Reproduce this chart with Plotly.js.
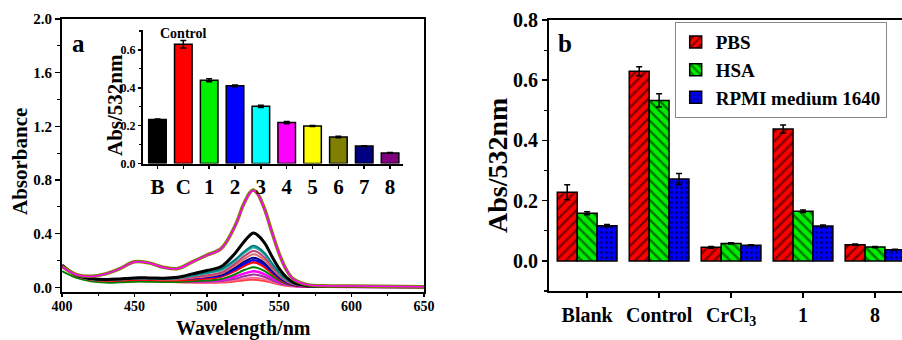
<!DOCTYPE html>
<html>
<head>
<meta charset="utf-8">
<script src="https://cdn.plot.ly/plotly-3.0.1.min.js"></script>
<style>
  html, body { margin: 0; padding: 0; background: #fff; }
  #chart { width: 902px; height: 340px; }
</style>
</head>
<body>
<div id="chart"></div>
<script>
// ---------- Panel a: spectra ----------
var wavelengths = [400,410,420,430,440,450,460,470,480,490,500,510,520,525,530,532,535,540,545,550,555,560,570,580,600,650];

var specOlive   = [0.155,0.095,0.082,0.100,0.140,0.190,0.182,0.150,0.140,0.190,0.240,0.290,0.470,0.610,0.710,0.725,0.700,0.580,0.410,0.250,0.130,0.060,0.018,0.012,0.010,0.004];
var specMagentaA= [0.153,0.094,0.081,0.099,0.139,0.189,0.181,0.149,0.139,0.189,0.238,0.288,0.467,0.606,0.706,0.721,0.696,0.576,0.407,0.248,0.129,0.059,0.018,0.012,0.010,0.004];
var specBlack   = [0.165,0.090,0.065,0.058,0.062,0.070,0.070,0.068,0.075,0.100,0.125,0.155,0.260,0.330,0.390,0.405,0.390,0.330,0.230,0.140,0.075,0.035,0.012,0.008,0.006,0.003];
var specTeal    = [0.160,0.088,0.062,0.055,0.060,0.068,0.067,0.064,0.070,0.090,0.110,0.135,0.210,0.260,0.300,0.310,0.300,0.255,0.180,0.110,0.060,0.030,0.010,0.007,0.005,0.003];
var specTeal2   = [0.158,0.087,0.061,0.054,0.059,0.066,0.066,0.063,0.068,0.085,0.104,0.128,0.200,0.248,0.287,0.296,0.287,0.244,0.172,0.105,0.057,0.028,0.010,0.007,0.005,0.003];
var specRasp    = [0.158,0.086,0.060,0.053,0.057,0.065,0.064,0.060,0.062,0.075,0.090,0.110,0.180,0.225,0.262,0.270,0.262,0.220,0.155,0.095,0.050,0.025,0.009,0.006,0.005,0.003];
var specSalmon  = [0.156,0.085,0.059,0.052,0.056,0.063,0.062,0.058,0.059,0.070,0.083,0.102,0.165,0.205,0.238,0.246,0.238,0.200,0.140,0.086,0.046,0.023,0.009,0.006,0.005,0.003];
var specNavy    = [0.160,0.088,0.062,0.057,0.062,0.070,0.070,0.066,0.064,0.070,0.080,0.095,0.150,0.185,0.213,0.220,0.213,0.180,0.125,0.075,0.040,0.020,0.008,0.005,0.004,0.002];
var specBlue    = [0.158,0.087,0.061,0.055,0.060,0.068,0.068,0.064,0.061,0.066,0.074,0.088,0.138,0.170,0.196,0.203,0.196,0.166,0.116,0.070,0.037,0.019,0.008,0.005,0.004,0.002];
var specRed     = [0.155,0.085,0.058,0.050,0.052,0.058,0.057,0.053,0.052,0.058,0.065,0.080,0.125,0.155,0.180,0.186,0.180,0.150,0.105,0.063,0.033,0.017,0.007,0.005,0.004,0.002];
var specGreen   = [0.120,0.070,0.045,0.035,0.037,0.042,0.042,0.040,0.040,0.045,0.050,0.062,0.100,0.125,0.145,0.150,0.145,0.120,0.085,0.050,0.027,0.014,0.006,0.004,0.003,0.002];
var specMagentaB= [0.165,0.090,0.060,0.050,0.050,0.055,0.055,0.050,0.046,0.045,0.047,0.055,0.082,0.100,0.115,0.120,0.116,0.097,0.068,0.040,0.022,0.012,0.005,0.004,0.003,0.002];
var specPurple  = [0.160,0.088,0.058,0.047,0.047,0.051,0.051,0.047,0.043,0.041,0.042,0.047,0.066,0.080,0.092,0.096,0.092,0.077,0.054,0.032,0.018,0.010,0.004,0.003,0.003,0.002];
var specPink    = [0.158,0.086,0.056,0.045,0.044,0.048,0.048,0.044,0.040,0.038,0.038,0.041,0.054,0.062,0.070,0.072,0.070,0.059,0.042,0.026,0.015,0.008,0.004,0.003,0.003,0.002];
var specRed2    = [0.156,0.085,0.055,0.043,0.042,0.045,0.045,0.041,0.037,0.035,0.034,0.036,0.045,0.051,0.056,0.057,0.055,0.047,0.034,0.021,0.012,0.007,0.004,0.006,0.004,0.002];

var spectra = [
  {y: specRed2,     color: '#ff4040', w: 2},
  {y: specPink,     color: '#ff6699', w: 2},
  {y: specPurple,   color: '#993399', w: 2},
  {y: specMagentaB, color: '#ff00ff', w: 2.5},
  {y: specGreen,    color: '#008000', w: 2},
  {y: specRed,      color: '#ff0000', w: 2.5},
  {y: specBlue,     color: '#0000ff', w: 2},
  {y: specNavy,     color: '#000080', w: 2},
  {y: specSalmon,   color: '#e07070', w: 2},
  {y: specRasp,     color: '#c04070', w: 2},
  {y: specTeal2,    color: '#33aaaa', w: 2},
  {y: specTeal,     color: '#008080', w: 2},
  {y: specBlack,    color: '#000000', w: 3},
  {y: specOlive,    color: '#808000', w: 3.5},
  {y: specMagentaA, color: '#ff00ff', w: 1.5}
];

// ---------- Inset: Abs at 532 nm ----------
var insetCats   = ['B','C','1','2','3','4','5','6','7','8'];
var insetValues = [0.232,0.630,0.440,0.410,0.302,0.216,0.198,0.140,0.092,0.056];
var insetErrors = [0.003,0.020,0.008,0.005,0.006,0.006,0.003,0.004,0.002,0.002];
var insetColors = ['#000000','#ff0000','#00ee00','#0000ff','#00ffff','#ff00ff','#ffff00','#808000','#000080','#800080'];

// ---------- Panel b ----------
var groupCats = ['Blank','Control','CrCl<sub>3</sub>','1','8'];
var seriesNames = ['PBS','HSA','RPMI medium 1640'];
var pbsValues  = [0.228,0.630,0.045,0.438,0.054];
var pbsErrors  = [0.025,0.015,0.003,0.013,0.002];
var hsaValues  = [0.158,0.533,0.058,0.165,0.046];
var hsaErrors  = [0.005,0.022,0.002,0.004,0.002];
var rpmiValues = [0.117,0.272,0.052,0.116,0.037];
var rpmiErrors = [0.004,0.018,0.002,0.003,0.002];

var F = 'Liberation Serif, Times New Roman, serif';
var data = [];

spectra.forEach(function (s) {
  data.push({
    type: 'scatter', mode: 'lines', x: wavelengths, y: s.y,
    xaxis: 'x', yaxis: 'y', showlegend: false,
    line: {color: s.color, width: s.w, shape: 'spline', smoothing: 1}
  });
});

data.push({
  type: 'bar', x: insetCats, y: insetValues, xaxis: 'x2', yaxis: 'y2',
  width: 0.68, showlegend: false,
  marker: {color: insetColors, line: {color: '#000', width: 1.5}},
  error_y: {type: 'data', array: insetErrors, visible: true, color: '#000', thickness: 1.5, width: 3}
});

var bSeries = [
  {name: seriesNames[0], y: pbsValues,  e: pbsErrors,  color: '#ff0000', shape: '/', size: 7, sol: 0.35},
  {name: seriesNames[1], y: hsaValues,  e: hsaErrors,  color: '#00ee00', shape: '\\', size: 7, sol: 0.35},
  {name: seriesNames[2], y: rpmiValues, e: rpmiErrors, color: '#0000ff', shape: '.', size: 5, sol: 0.3}
];
bSeries.forEach(function (s) {
  data.push({
    type: 'bar', name: s.name, x: groupCats, y: s.y, xaxis: 'x3', yaxis: 'y3',
    marker: {color: s.color, line: {color: '#000', width: 1.5},
             pattern: {shape: s.shape, fgcolor: '#000', bgcolor: s.color, size: s.size, solidity: s.sol, fillmode: 'overlay'}},
    error_y: {type: 'data', array: s.e, visible: true, color: '#000', thickness: 1.5, width: 3}
  });
});

function tf(size) { return {family: F, size: size, color: '#000', weight: 'bold'}; }
function px(x) { return x / 902; }
function py(y) { return (340 - y) / 340; }

var layout = {
  width: 902, height: 340,
  margin: {l: 0, r: 0, t: 0, b: 0},
  paper_bgcolor: '#fff', plot_bgcolor: 'rgba(0,0,0,0)',
  font: {family: F, color: '#000'},
  barmode: 'group', bargap: 0.17, bargroupgap: 0,
  showlegend: true,
  legend: {x: 0.748, y: 0.935, xanchor: 'left', yanchor: 'top',
           font: tf(19), bordercolor: '#888', borderwidth: 1, bgcolor: '#fff',
           tracegroupgap: 0, itemwidth: 30},
  xaxis: {domain: [px(62), px(424)], anchor: 'y', range: [400, 650], dtick: 50,
          showline: true, linecolor: '#000', linewidth: 2, mirror: true,
          ticks: 'outside', ticklen: 3, tickwidth: 1.5, tickcolor: '#000',
          ticklabelstandoff: -3,
          minor: {dtick: 25, ticks: 'outside', ticklen: 2, tickcolor: '#000', tickwidth: 1.2},
          showgrid: false, zeroline: false, tickfont: tf(14)},
  yaxis: {domain: [48/340, 321/340], anchor: 'x', range: [-0.035, 2.0], dtick: 0.4, tick0: 0,
          tickformat: '.1f',
          showline: true, linecolor: '#000', linewidth: 2, mirror: true,
          ticks: 'outside', ticklen: 5, tickwidth: 1.5, tickcolor: '#000',
          minor: {dtick: 0.2, ticks: 'outside', ticklen: 3, tickcolor: '#000', tickwidth: 1.2},
          showgrid: false, zeroline: false, tickfont: tf(15)},
  xaxis2: {domain: [px(143), px(403)], anchor: 'y2', type: 'category', range: [-0.56, 9.5],
           showline: true, linecolor: '#000', linewidth: 2, mirror: false,
           ticks: 'outside', ticklen: 3, tickwidth: 1.5, tickcolor: '#000',
           showgrid: false, zeroline: false, tickfont: tf(21)},
  yaxis2: {domain: [176.5/340, 310/340], anchor: 'x2', range: [0, 0.705], dtick: 0.2, tick0: 0,
           tickformat: '.1f',
           showline: true, linecolor: '#000', linewidth: 2, mirror: false,
           ticks: 'outside', ticklen: 3, tickwidth: 1.5, tickcolor: '#000',
           minor: {dtick: 0.1, ticks: 'outside', ticklen: 2, tickcolor: '#000', tickwidth: 1.2},
           showgrid: false, zeroline: false, tickfont: tf(12)},
  xaxis3: {domain: [px(549), 1], anchor: 'y3', type: 'category', range: [-0.53, 4.375],
           showline: true, linecolor: '#000', linewidth: 2, mirror: true,
           ticks: 'outside', ticklen: 5, tickwidth: 1.5, tickcolor: '#000',
           showgrid: false, zeroline: false, tickfont: tf(20)},
  yaxis3: {domain: [49/340, 320/340], anchor: 'x3', range: [-0.1, 0.8], dtick: 0.2, tick0: 0,
           tickformat: '.1f',
           showline: true, linecolor: '#000', linewidth: 2, mirror: false,
           ticks: 'outside', ticklen: 5, tickwidth: 1.5, tickcolor: '#000',
           minor: {dtick: 0.1, ticks: 'outside', ticklen: 3, tickcolor: '#000', tickwidth: 1.2},
           showgrid: false, zeroline: false, tickfont: tf(20)},
  annotations: [
    {text: 'Wavelength/nm', xref: 'paper', yref: 'paper', x: px(243), y: py(328), xanchor: 'center', yanchor: 'middle', showarrow: false, font: tf(20)},
    {text: 'Absorbance', xref: 'paper', yref: 'paper', x: px(20), y: py(162), xanchor: 'center', yanchor: 'middle', textangle: -90, showarrow: false, font: tf(21)},
    {text: 'Abs/532nm', xref: 'paper', yref: 'paper', x: px(115), y: py(105), xanchor: 'center', yanchor: 'middle', textangle: -90, showarrow: false, font: tf(21)},
    {text: 'Abs/532nm', xref: 'paper', yref: 'paper', x: px(497), y: py(166), xanchor: 'center', yanchor: 'middle', textangle: -90, showarrow: false, font: tf(28)},
    {text: 'a', xref: 'paper', yref: 'paper', x: px(78), y: py(43), xanchor: 'center', yanchor: 'middle', showarrow: false, font: tf(25)},
    {text: 'b', xref: 'paper', yref: 'paper', x: px(565), y: py(43), xanchor: 'center', yanchor: 'middle', showarrow: false, font: tf(25)},
    {text: 'Control', xref: 'x2', yref: 'paper', x: 'C', y: py(33.5), xanchor: 'center', yanchor: 'middle', showarrow: false, font: tf(14)}
  ]
};

Plotly.newPlot('chart', data, layout, {displayModeBar: false, staticPlot: true});
</script>
</body>
</html>
